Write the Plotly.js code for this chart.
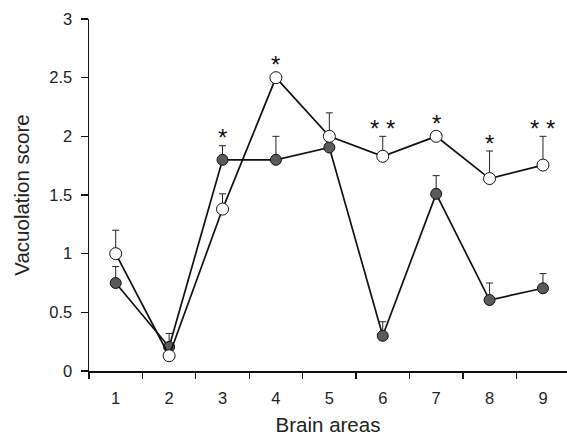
<!DOCTYPE html>
<html><head><meta charset="utf-8">
<script src="https://cdn.plot.ly/plotly-3.0.1.min.js"></script>
<style>html,body{margin:0;padding:0;background:#fff;}#chart{width:567px;height:436px;}</style>
</head><body><div id="chart"></div>
<script>
var areas = [1, 2, 3, 4, 5, 6, 7, 8, 9];
var openScore = [1.0, 0.13, 1.38, 2.5, 2.0, 1.83, 2.0, 1.64, 1.755];
var openErr = [0.2, 0.0, 0.13, 0.0, 0.2, 0.17, 0.0, 0.235, 0.245];
var filledScore = [0.75, 0.205, 1.8, 1.8, 1.905, 0.30, 1.51, 0.605, 0.705];
var filledErr = [0.14, 0.115, 0.12, 0.2, 0.0, 0.12, 0.155, 0.145, 0.125];
var stars = ['', '', '*', '*', '', '* *', '*', '*', '* *'];
var yTicks = [0, 0.5, 1, 1.5, 2, 2.5, 3];

var errStyle = function (arr) {
  return {type: 'data', symmetric: false, array: arr, arrayminus: arr.map(function(){return 0;}),
          color: '#222', thickness: 1, width: 3.5};
};

var traces = [
  {x: areas, y: filledScore, type: 'scatter', mode: 'lines+markers',
   line: {color: '#111', width: 1.7},
   marker: {size: 11, color: '#5a5a5a', line: {color: '#111', width: 1}},
   error_y: errStyle(filledErr), hoverinfo: 'none'},
  {x: areas, y: openScore, type: 'scatter', mode: 'lines+markers',
   line: {color: '#111', width: 1.7},
   marker: {size: 12, color: '#fff', line: {color: '#111', width: 1}},
   error_y: errStyle(openErr), hoverinfo: 'none'}
];

var annotations = [];
areas.forEach(function (a, i) {
  if (!stars[i]) return;
  var eOpen = openScore[i] + openErr[i], eFill = filledScore[i] + filledErr[i];
  var top = Math.max(eOpen, eFill);
  var bare = (eOpen >= eFill && openErr[i] === 0);
  annotations.push({x: a, y: top, xref: 'x', yref: 'y', text: stars[i], showarrow: false,
    yanchor: 'middle', yshift: bare ? 13 : 8,
    font: {family: 'Liberation Sans, Arial, sans-serif', size: 24, color: '#111'}});
});

var layout = {
  width: 567, height: 436,
  margin: {l: 89, r: 0, t: 19, b: 65},
  paper_bgcolor: '#fff', plot_bgcolor: '#fff',
  showlegend: false,
  font: {family: 'Liberation Sans, Arial, sans-serif', color: '#222'},
  xaxis: {range: [0.5, 9.45], tickvals: areas, ticktext: areas.map(String), ticks: '',
    ticklabelstandoff: 12,
    minor: {tick0: 0.5, dtick: 1, ticks: 'outside', ticklen: 6, tickwidth: 1.3, tickcolor: '#111'},
    showline: true, linecolor: '#111', linewidth: 1.5, showgrid: false, zeroline: false,
    tickfont: {size: 16.5, color: '#222'},
    title: {text: 'Brain areas', font: {size: 20.5, color: '#222'}, standoff: 11}},
  yaxis: {range: [0, 3], tickvals: yTicks, ticktext: yTicks.map(String), ticks: 'outside', ticklen: 7,
    tickwidth: 1.3, tickcolor: '#111', ticklabelstandoff: 5,
    showline: true, linecolor: '#111', linewidth: 1.5, showgrid: false, zeroline: false,
    tickfont: {size: 16.5, color: '#222'},
    title: {text: 'Vacuolation score', font: {size: 20.5, color: '#222'}, standoff: 14}},
  annotations: annotations
};

Plotly.newPlot('chart', traces, layout, {displayModeBar: false, staticPlot: true});
</script></body></html>
